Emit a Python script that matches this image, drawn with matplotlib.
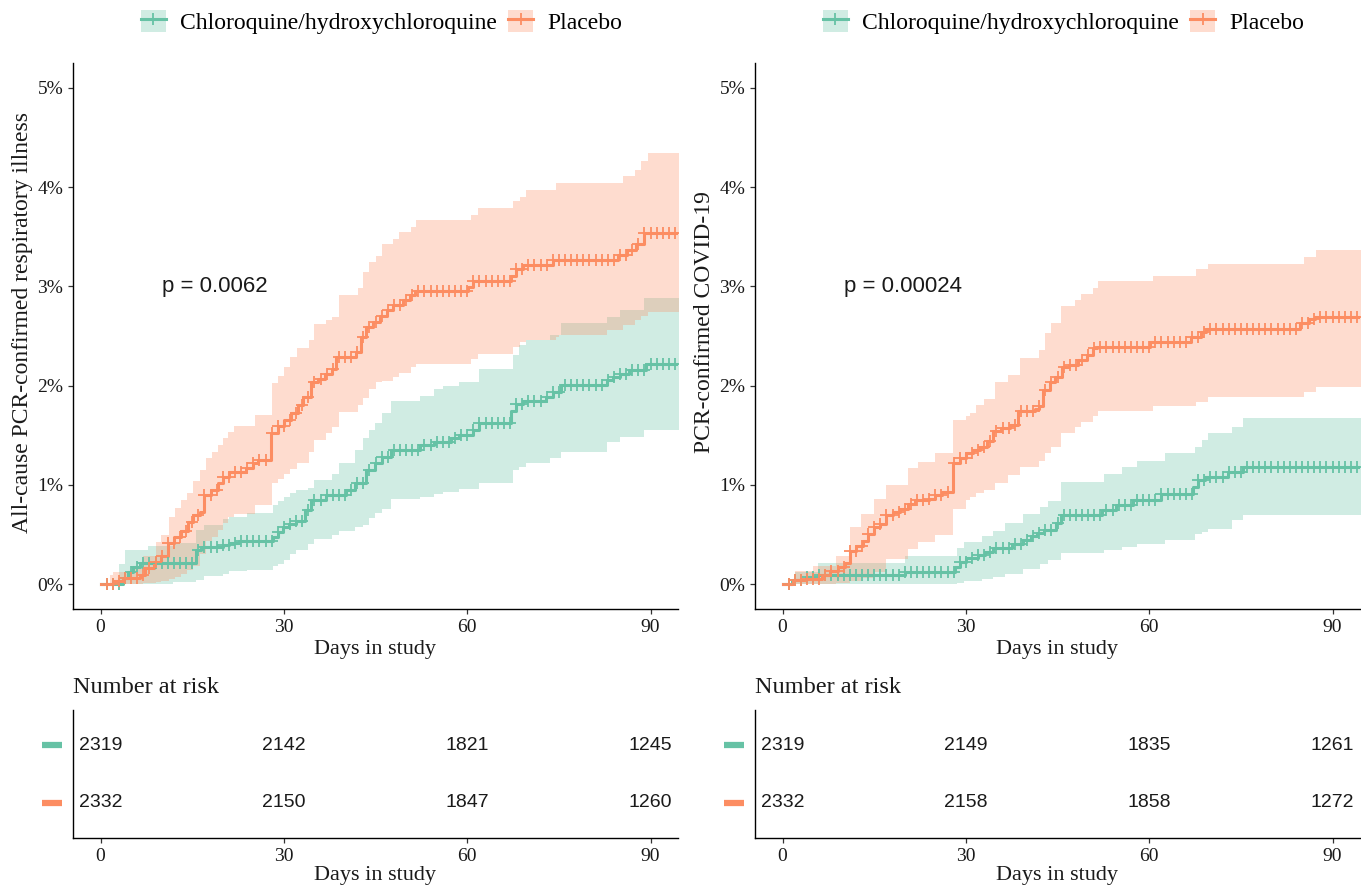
import matplotlib
matplotlib.use("Agg")
import matplotlib.pyplot as plt
import matplotlib.transforms as mtransforms
from matplotlib.lines import Line2D
from matplotlib.patches import Patch
from matplotlib.ticker import FuncFormatter
import numpy as np

SERIF = ['Liberation Serif', 'DejaVu Serif']
SANS = ['Liberation Sans', 'DejaVu Sans']
plt.rcParams['font.family'] = SERIF

GREEN = '#66C2A5'
ORANGE = '#FC8D62'
TXT = '#1a1a1a'

group_names = ['Chloroquine/hydroxychloroquine', 'Placebo']
risk_days = [0, 30, 60, 90]
x_ticks = [0, 30, 60, 90]
y_ticks = [0, 1, 2, 3, 4, 5]

# days with censoring marks (+)
censor_days = [1, 2, 3, 4, 5, 6, 7, 8, 9, 10, 11, 12, 13, 14, 15, 16, 17, 18, 19, 20,
               21, 22, 23, 24, 25, 26, 27, 28, 29, 30, 31, 32, 33, 34, 35, 36, 37, 38, 39, 40,
               41, 42, 43, 44, 45, 46, 47, 48, 49, 50, 51, 52, 53, 54, 55, 56, 57, 58, 59, 60,
               61, 62, 63, 64, 65, 66, 67, 68, 69, 70, 71, 72, 73, 74, 75, 76, 77, 78, 79, 80,
               81, 82, 83, 84, 85, 86, 87, 88, 89, 90, 91, 92, 93, 94]

# ---- left panel: all-cause PCR-confirmed respiratory illness (cumulative %, step post)
ill_hcq_t = [0, 3.6, 4.5, 5.3, 6.4, 15.7, 16.5, 20.0, 21.1, 22.7, 28.2, 29.0, 29.8, 30.9, 32.0,
             33.4, 34.5, 36.9, 40.2, 41.6, 43.5, 44.9, 46.0, 47.6, 52.2, 54.6, 57.4, 58.7, 60.9,
             62.0, 67.2, 68.0, 69.1, 72.9, 74.0, 75.4, 82.8, 83.9, 85.0, 86.5, 89.3]
ill_hcq_est = [0, 0.06, 0.12, 0.17, 0.21, 0.34, 0.37, 0.39, 0.41, 0.44, 0.48, 0.53, 0.58, 0.61, 0.64,
               0.75, 0.85, 0.90, 0.95, 1.02, 1.15, 1.22, 1.28, 1.35, 1.40, 1.43, 1.47, 1.50, 1.55,
               1.62, 1.74, 1.82, 1.85, 1.89, 1.94, 2.01, 2.06, 2.09, 2.12, 2.16, 2.22]
ill_hcq_bt = [0, 3.0, 4.0, 7.7, 11.8, 15.7, 17.0, 20.0, 21.0, 24.0, 28.2, 29.0, 30.0, 31.0, 32.0,
              34.0, 35.0, 37.8, 39.1, 41.6, 43.0, 44.0, 44.9, 46.0, 47.6, 52.2, 54.6, 56.0, 58.7,
              62.0, 67.5, 68.5, 69.6, 73.5, 75.4, 82.8, 85.0, 89.0]
ill_hcq_lo = [0, 0, 0, 0, 0.02, 0.04, 0.08, 0.10, 0.13, 0.14, 0.18, 0.20, 0.24, 0.30, 0.34,
              0.40, 0.46, 0.50, 0.54, 0.58, 0.60, 0.67, 0.72, 0.76, 0.86, 0.88, 0.91, 0.93, 0.96,
              1.02, 1.15, 1.18, 1.22, 1.27, 1.33, 1.43, 1.48, 1.55]
ill_hcq_hi = [0, 0.20, 0.34, 0.38, 0.41, 0.55, 0.60, 0.66, 0.68, 0.72, 0.80, 0.84, 0.88, 0.92, 0.95,
              0.97, 1.05, 1.11, 1.22, 1.35, 1.47, 1.55, 1.62, 1.72, 1.85, 1.90, 1.97, 2.00, 2.04,
              2.17, 2.31, 2.41, 2.46, 2.51, 2.63, 2.69, 2.76, 2.88]

ill_pbo_t = [0, 2.1, 3.7, 6.4, 7.2, 8.8, 9.9, 11.0, 12.1, 13.2, 14.3, 15.1, 16.2, 17.0, 18.1,
             19.2, 20.0, 21.1, 23.8, 24.9, 25.7, 27.9, 29.0, 30.1, 31.2, 32.3, 33.1, 34.5, 35.6,
             36.7, 37.8, 38.6, 41.8, 42.6, 43.5, 44.6, 45.7, 46.8, 47.9, 49.5, 50.6, 51.4, 60.1,
             60.9, 67.2, 68.0, 69.1, 74.0, 84.7, 86.1, 87.7, 89.0]
ill_pbo_est = [0, 0.03, 0.06, 0.09, 0.16, 0.22, 0.28, 0.41, 0.48, 0.54, 0.63, 0.70, 0.73, 0.90, 0.95,
               1.02, 1.08, 1.13, 1.17, 1.22, 1.25, 1.52, 1.59, 1.65, 1.72, 1.80, 1.89, 2.04, 2.07,
               2.12, 2.17, 2.29, 2.34, 2.49, 2.59, 2.64, 2.70, 2.76, 2.81, 2.86, 2.91, 2.95, 2.99,
               3.05, 3.10, 3.17, 3.22, 3.27, 3.32, 3.37, 3.43, 3.54]
ill_pbo_bt = [0, 1.6, 2.1, 5.0, 6.9, 9.1, 9.9, 11.2, 12.2, 13.2, 14.1, 15.1, 16.2, 17.2, 18.3,
              19.2, 20.0, 20.9, 21.9, 25.2, 28.1, 29.0, 30.0, 31.0, 32.1, 34.1, 34.9, 36.9, 37.8,
              39.1, 42.1, 43.0, 44.0, 45.0, 46.0, 47.8, 48.9, 50.8, 51.7, 60.7, 61.8, 67.5, 68.6,
              69.7, 74.6, 75.1, 82.8, 85.5, 87.4, 88.5, 89.6]
ill_pbo_lo = [0, 0, 0, 0, 0.01, 0.02, 0.03, 0.05, 0.07, 0.10, 0.14, 0.18, 0.30, 0.44, 0.48,
              0.55, 0.62, 0.68, 0.71, 0.80, 1.02, 1.06, 1.11, 1.16, 1.22, 1.33, 1.45, 1.52, 1.58,
              1.73, 1.80, 1.88, 1.97, 2.04, 2.05, 2.09, 2.13, 2.19, 2.22, 2.27, 2.32, 2.39, 2.44,
              2.46, 2.49, 2.51, 2.56, 2.61, 2.66, 2.70, 2.74]
ill_pbo_hi = [0, 0.09, 0.12, 0.18, 0.28, 0.42, 0.50, 0.68, 0.77, 0.85, 0.92, 1.04, 1.15, 1.27, 1.33,
              1.40, 1.47, 1.53, 1.59, 1.70, 2.03, 2.10, 2.19, 2.29, 2.38, 2.46, 2.62, 2.66, 2.69,
              2.91, 2.98, 3.14, 3.25, 3.31, 3.43, 3.48, 3.55, 3.60, 3.67, 3.72, 3.79, 3.86, 3.90,
              3.97, 4.04, 4.04, 4.04, 4.11, 4.17, 4.26, 4.34]

# ---- right panel: PCR-confirmed COVID-19
cov_hcq_t = [0, 1.5, 3.9, 5.8, 20.0, 28.2, 29.0, 30.1, 32.0, 33.2, 34.5, 37.5, 39.4, 40.7, 41.7,
             42.8, 44.7, 45.5, 52.2, 54.6, 57.4, 62.0, 67.2, 68.0, 69.1, 72.9, 75.4]
cov_hcq_est = [0, 0.04, 0.07, 0.09, 0.12, 0.17, 0.22, 0.26, 0.29, 0.32, 0.36, 0.40, 0.45, 0.49, 0.52,
               0.55, 0.62, 0.70, 0.75, 0.80, 0.85, 0.91, 0.98, 1.05, 1.08, 1.13, 1.18]
cov_hcq_bt = [0, 2.0, 5.8, 20.0, 28.6, 29.7, 32.7, 34.5, 36.4, 39.4, 42.1, 43.5, 45.5, 52.6, 55.5,
              58.0, 62.6, 67.5, 68.6, 69.7, 73.5, 75.4]
cov_hcq_lo = [0, 0, 0, 0, 0.01, 0.03, 0.05, 0.07, 0.10, 0.15, 0.20, 0.24, 0.31, 0.34, 0.37,
              0.40, 0.45, 0.51, 0.53, 0.56, 0.65, 0.70]
cov_hcq_hi = [0, 0.12, 0.21, 0.28, 0.36, 0.42, 0.49, 0.54, 0.62, 0.71, 0.78, 0.84, 1.03, 1.11, 1.18,
              1.24, 1.32, 1.38, 1.45, 1.52, 1.58, 1.67]

cov_pbo_t = [0, 1.7, 3.9, 6.4, 7.7, 9.1, 10.2, 11.0, 12.1, 13.2, 14.0, 14.9, 16.0, 17.0, 18.1,
             19.2, 20.6, 21.7, 23.9, 25.0, 26.1, 27.9, 29.0, 30.1, 31.2, 32.3, 33.4, 34.5, 35.8,
             37.2, 38.6, 41.3, 42.0, 42.7, 43.8, 44.6, 45.7, 46.8, 48.4, 49.8, 50.8, 51.4, 60.1,
             66.9, 68.5, 69.3, 84.7, 86.1, 87.1]
cov_pbo_est = [0, 0.04, 0.05, 0.09, 0.13, 0.17, 0.21, 0.33, 0.38, 0.43, 0.51, 0.58, 0.61, 0.70, 0.73,
               0.76, 0.81, 0.85, 0.86, 0.90, 0.93, 1.22, 1.27, 1.32, 1.35, 1.38, 1.44, 1.54, 1.57,
               1.60, 1.74, 1.76, 1.79, 1.96, 2.04, 2.09, 2.19, 2.21, 2.26, 2.31, 2.38, 2.39, 2.44,
               2.49, 2.54, 2.57, 2.63, 2.67, 2.69]
cov_pbo_bt = [0, 2.1, 5.0, 8.8, 11.0, 12.9, 14.9, 17.0, 20.6, 22.2, 25.0, 27.9, 30.0, 30.6, 31.7,
              32.9, 34.8, 36.9, 38.9, 41.9, 42.9, 44.0, 45.6, 47.8, 48.9, 50.8, 51.6, 60.6, 67.7,
              69.6, 85.4, 87.3]
cov_pbo_lo = [0, 0, 0, 0.01, 0.03, 0.06, 0.12, 0.25, 0.35, 0.42, 0.50, 0.76, 0.85, 0.88, 0.92,
              0.95, 1.02, 1.10, 1.18, 1.24, 1.32, 1.38, 1.52, 1.58, 1.63, 1.69, 1.74, 1.79, 1.84,
              1.89, 1.94, 1.99]
cov_pbo_hi = [0, 0.13, 0.18, 0.28, 0.58, 0.71, 0.86, 1.00, 1.17, 1.23, 1.32, 1.65, 1.69, 1.72, 1.80,
              1.87, 2.04, 2.11, 2.28, 2.36, 2.53, 2.63, 2.80, 2.86, 2.92, 2.98, 3.05, 3.10, 3.17,
              3.23, 3.30, 3.37]

# number at risk
ill_risk_hcq = [2319, 2142, 1821, 1245]
ill_risk_pbo = [2332, 2150, 1847, 1260]
cov_risk_hcq = [2319, 2149, 1835, 1261]
cov_risk_pbo = [2332, 2158, 1858, 1272]

p_values = ['p = 0.0062', 'p = 0.00024']
y_labels = ['All-cause PCR-confirmed respiratory illness', 'PCR-confirmed COVID-19']

END_DAY = 95
XLIM = (-4.5, 94.5)


def style_axis(ax):
    for s in ['top', 'right']:
        ax.spines[s].set_visible(False)
    for s in ['left', 'bottom']:
        ax.spines[s].set_linewidth(1.0)
        ax.spines[s].set_color('black')
    ax.tick_params(direction='out', length=3.5, width=0.9, colors='#333333',
                   labelcolor=TXT, labelsize=14)


def draw_km(ax, curves):
    # ribbons first, then lines, then censor marks (ggplot layer order)
    for t, est, bt, lo, hi, color in curves:
        ax.fill_between(bt + [END_DAY], lo + [lo[-1]], hi + [hi[-1]], step='post',
                        color=color, alpha=0.3, lw=0)
    for t, est, bt, lo, hi, color in curves:
        ax.step(t + [END_DAY], est + [est[-1]], where='post', color=color, lw=2.2)
    for t, est, bt, lo, hi, color in curves:
        ct = np.array(censor_days, dtype=float)
        idx = np.searchsorted(np.array(t), ct, side='right') - 1
        cy = np.array(est)[idx]
        ax.plot(ct, cy, ls='none', marker='+', ms=8.5, mew=1.3, color=color)


fig = plt.figure(figsize=(13.61, 8.86), dpi=100)

panels = [
    (73, [(ill_hcq_t, ill_hcq_est, ill_hcq_bt, ill_hcq_lo, ill_hcq_hi, GREEN),
          (ill_pbo_t, ill_pbo_est, ill_pbo_bt, ill_pbo_lo, ill_pbo_hi, ORANGE)],
     ill_risk_hcq, ill_risk_pbo, p_values[0], y_labels[0]),
    (755, [(cov_hcq_t, cov_hcq_est, cov_hcq_bt, cov_hcq_lo, cov_hcq_hi, GREEN),
           (cov_pbo_t, cov_pbo_est, cov_pbo_bt, cov_pbo_lo, cov_pbo_hi, ORANGE)],
     cov_risk_hcq, cov_risk_pbo, p_values[1], y_labels[1]),
]

W, H = 1361.0, 886.0
for left_px, curves, risk_g, risk_o, ptxt, ylab in panels:
    ax = fig.add_axes([left_px / W, 1 - 609 / H, 605 / W, 546 / H])
    draw_km(ax, curves)
    ax.set_xlim(*XLIM)
    ax.set_ylim(-0.25, 5.25)
    ax.set_xticks(x_ticks)
    ax.set_yticks(y_ticks)
    ax.yaxis.set_major_formatter(FuncFormatter(lambda v, pos: f'{v:.0f}%'))
    style_axis(ax)
    ax.set_xlabel('Days in study', fontsize=16, color=TXT, labelpad=3)
    ax.set_ylabel(ylab, fontsize=17, color=TXT)
    ax.yaxis.set_label_coords(-0.066, 0.525)
    ax.text(10, 3.0, ptxt, family=SANS, fontsize=16, ha='left', va='center', color=TXT)

    handles = [
        (Patch(facecolor=GREEN, alpha=0.3, lw=0),
         Line2D([], [], color=GREEN, lw=2.2, marker='+', ms=9, mew=1.3)),
        (Patch(facecolor=ORANGE, alpha=0.3, lw=0),
         Line2D([], [], color=ORANGE, lw=2.2, marker='+', ms=9, mew=1.3)),
    ]
    ax.legend(handles, group_names, loc='lower center', bbox_to_anchor=(0.51, 1.036),
              ncol=2, frameon=False, fontsize=17, handlelength=1.05, handleheight=1.1,
              handletextpad=0.6, columnspacing=0.5, borderaxespad=0)

    # number-at-risk table
    rt = fig.add_axes([left_px / W, 1 - 838 / H, 605 / W, 128 / H])
    rt.set_xlim(*XLIM)
    rt.set_ylim(0.38, 2.62)
    rt.set_xticks(x_ticks)
    rt.set_yticks([])
    style_axis(rt)
    rt.tick_params(axis='y', length=0)
    for d, g, o in zip(risk_days, risk_g, risk_o):
        rt.text(d, 2, str(g), family=SANS, fontsize=14, ha='center', va='center', color=TXT)
        rt.text(d, 1, str(o), family=SANS, fontsize=14, ha='center', va='center', color=TXT)
    trans = mtransforms.blended_transform_factory(rt.transAxes, rt.transData)
    for yv, c in [(2, GREEN), (1, ORANGE)]:
        rt.plot([-0.052, -0.018], [yv, yv], transform=trans, color=c, lw=4.5,
                solid_capstyle='butt', clip_on=False)
    rt.set_xlabel('Days in study', fontsize=16, color=TXT, labelpad=1)
    rt.set_title('Number at risk', loc='left', fontsize=17.5, color=TXT, pad=12)

fig.savefig('out.png', dpi=100, facecolor='white')
